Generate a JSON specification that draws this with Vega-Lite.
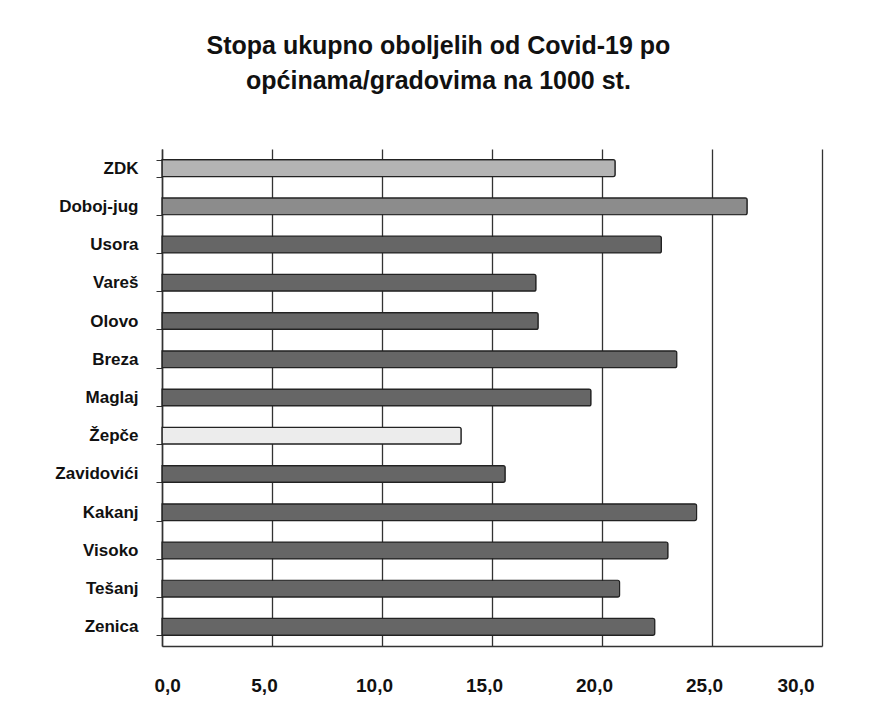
{
  "$schema": "https://vega.github.io/schema/vega-lite/v6.json",
  "width": 660,
  "height": 497,
  "autosize": {"type": "none"},
  "padding": {"left": 162, "top": 149, "right": 59, "bottom": 73},
  "background": "white",
  "title": {
    "text": ["Stopa ukupno oboljelih od Covid-19 po", "općinama/gradovima na 1000 st."],
    "font": "Liberation Sans",
    "fontWeight": "bold",
    "fontSize": 25,
    "lineHeight": 35,
    "color": "#111",
    "anchor": "middle",
    "frame": "bounds",
    "offset": 46
  },
  "data": {
    "values": [
      {"name": "ZDK", "rate": 20.6},
      {"name": "Doboj-jug", "rate": 26.6},
      {"name": "Usora", "rate": 22.7},
      {"name": "Vareš", "rate": 17.0},
      {"name": "Olovo", "rate": 17.1},
      {"name": "Breza", "rate": 23.4},
      {"name": "Maglaj", "rate": 19.5},
      {"name": "Žepče", "rate": 13.6},
      {"name": "Zavidovići", "rate": 15.6},
      {"name": "Kakanj", "rate": 24.3},
      {"name": "Visoko", "rate": 23.0},
      {"name": "Tešanj", "rate": 20.8},
      {"name": "Zenica", "rate": 22.4}
    ]
  },
  "mark": {"type": "bar", "stroke": "#222", "strokeWidth": 1.2, "cornerRadiusEnd": 2},
  "encoding": {
    "y": {
      "field": "name",
      "type": "nominal",
      "sort": null,
      "scale": {"paddingInner": 0.56, "paddingOuter": 0.28},
      "axis": {
        "title": null,
        "labelFont": "Liberation Sans",
        "labelFontWeight": "bold",
        "labelFontSize": 17,
        "labelColor": "#111",
        "labelPadding": 18,
        "tickBand": "extent",
        "tickSize": 6,
        "tickColor": "#333",
        "domainColor": "#333",
        "domainWidth": 1.5
      }
    },
    "x": {
      "field": "rate",
      "type": "quantitative",
      "scale": {"domain": [0, 30], "nice": false},
      "axis": {
        "title": null,
        "values": [0, 5, 10, 15, 20, 25, 30],
        "format": ".1f",
        "labelExpr": "replace(datum.label, '.', ',')",
        "labelFont": "Liberation Sans",
        "labelFontWeight": "bold",
        "labelFontSize": 19,
        "labelColor": "#111",
        "labelPadding": 30,
        "labelOffset": -8,
        "grid": true,
        "gridColor": "#333",
        "gridWidth": 1.3,
        "ticks": false,
        "domainColor": "#333",
        "domainWidth": 1.5
      }
    },
    "color": {
      "field": "name",
      "type": "nominal",
      "legend": null,
      "scale": {
        "domain": ["ZDK", "Doboj-jug", "Usora", "Vareš", "Olovo", "Breza", "Maglaj", "Žepče", "Zavidovići", "Kakanj", "Visoko", "Tešanj", "Zenica"],
        "range": ["#b4b4b4", "#8c8c8c", "#666666", "#666666", "#666666", "#666666", "#666666", "#ececec", "#666666", "#666666", "#666666", "#666666", "#666666"]
      }
    }
  },
  "config": {"view": {"stroke": null}}
}
